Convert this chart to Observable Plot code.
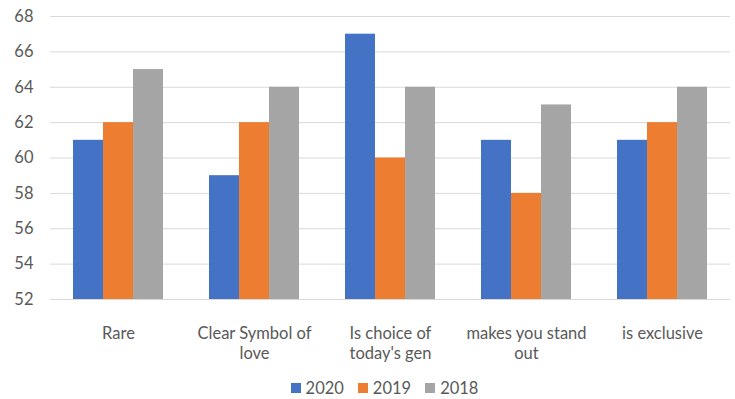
<!DOCTYPE html>
<html>
<head>
<meta charset="utf-8">
<script src="https://cdn.jsdelivr.net/npm/d3@7"></script>
<script src="https://cdn.jsdelivr.net/npm/@observablehq/plot@0.6"></script>
<style>
  body { margin: 0; background: #fff; font-family: Lato, "Open Sans", sans-serif; }
  #chart svg { display: block; }
  .legend { display: flex; justify-content: center; align-items: center; width: 735px;
            box-sizing: border-box; padding-left: 34px; margin-top: 12px; height: 20px;
            font-size: 16.5px; color: #595959; }
  .legend span.item { display: flex; align-items: center; margin: 0 7px; }
  .legend span.sw { width: 10px; height: 10px; margin-right: 5px; display: inline-block; }
</style>
</head>
<body>
<div id="chart"></div>
<div class="legend" id="legend"></div>
<script>
// Survey attributes and scores per year
const categories = ["Rare", "Clear Symbol of love", "Is choice of today's gen", "makes you stand out", "is exclusive"];
const categoryLines = {
  "Rare": "Rare",
  "Clear Symbol of love": "Clear Symbol of\nlove",
  "Is choice of today's gen": "Is choice of\ntoday's gen",
  "makes you stand out": "makes you stand\nout",
  "is exclusive": "is exclusive"
};
const years = ["2020", "2019", "2018"];
const values2020 = [61, 59, 67, 61, 61];
const values2019 = [62, 62, 60, 58, 62];
const values2018 = [65, 64, 64, 63, 64];
const colors = ["#4472C4", "#ED7D31", "#A5A5A5"];
const yTicks = [52, 54, 56, 58, 60, 62, 64, 66, 68];

const series = [values2020, values2019, values2018];
const rows = [];
categories.forEach((c, i) => {
  years.forEach((y, j) => rows.push({category: c, year: y, value: series[j][i]}));
});

const chart = Plot.plot({
  width: 735,
  height: 366,
  marginTop: 16,
  marginBottom: 67,
  marginLeft: 50,
  marginRight: 5,
  style: {fontFamily: "Lato, 'Open Sans', sans-serif", fontSize: "16.5px", color: "#595959"},
  fx: {domain: categories, padding: 0, label: null, axis: null},
  x: {domain: years, axis: null, paddingInner: 0, paddingOuter: 0.715},
  y: {domain: [52, 68], ticks: yTicks, label: null, axis: null},
  color: {domain: years, range: colors},
  marks: [
    Plot.gridY(yTicks, {stroke: "#d9d9d9", strokeOpacity: 1, strokeWidth: 1}),
    Plot.barY(rows, {fx: "category", x: "year", y1: 52, y2: "value", fill: "year"}),
    Plot.axisY(yTicks, {anchor: "left", tickSize: 0, tickPadding: 17, fill: "#595959", fontSize: 16.5, label: null}),
    Plot.axisFx({anchor: "bottom", tickSize: 0, tickPadding: 25, fill: "#595959", fontSize: 16.5, lineHeight: 1.22,
                 tickFormat: d => categoryLines[d], label: null})
  ]
});
document.getElementById("chart").appendChild(chart);

const legend = document.getElementById("legend");
years.forEach((y, j) => {
  const item = document.createElement("span");
  item.className = "item";
  item.innerHTML = `<span class="sw" style="background:${colors[j]}"></span>${y}`;
  legend.appendChild(item);
});
</script>
</body>
</html>
